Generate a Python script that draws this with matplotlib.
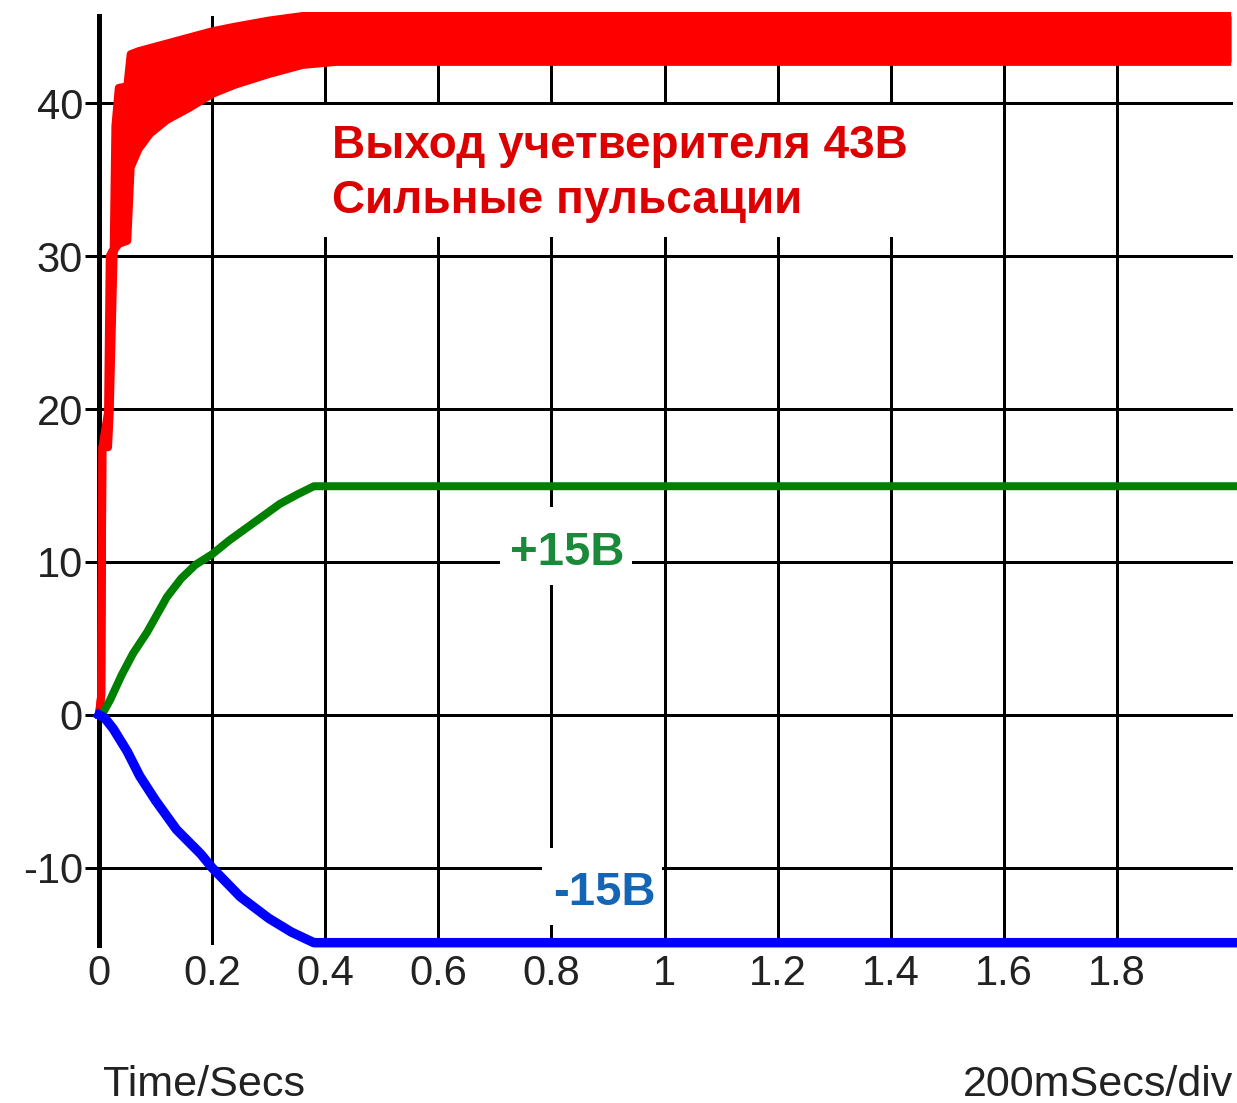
import matplotlib
matplotlib.use("Agg")
import matplotlib.pyplot as plt
from matplotlib.patches import Rectangle

plt.rcParams['font.family'] = ['Liberation Sans', 'DejaVu Sans']

# ---- data ----
# red: quadrupler output, drawn as a ripple band (upper / lower envelope)
red_t  = [0.000, 0.004, 0.006, 0.016, 0.019, 0.026, 0.029, 0.035, 0.050, 0.056,
          0.070, 0.090, 0.120, 0.160, 0.200, 0.240, 0.300, 0.360, 0.420, 2.002]
red_hi = [0.0, 1.3, 17.5, 19.8, 30.0, 30.5, 38.5, 41.0, 41.1, 43.2,
          43.4, 43.6, 43.9, 44.3, 44.7, 45.0, 45.4, 45.7, 45.7, 45.7]
red_lo = [0.0, 1.3, 17.5, 17.5, 19.8, 30.3, 30.5, 30.8, 31.0, 35.8,
          37.0, 38.0, 38.9, 39.7, 40.6, 41.2, 41.9, 42.5, 42.7, 42.7]

green_t = [0, 0.005, 0.02, 0.04, 0.06, 0.085, 0.12, 0.145, 0.17, 0.2,
           0.23, 0.26, 0.29, 0.32, 0.35, 0.38, 2.02]
green_v = [0, 0.0, 1.0, 2.6, 4.0, 5.4, 7.7, 8.9, 9.8, 10.5,
           11.4, 12.2, 13.0, 13.8, 14.4, 14.95, 14.95]

blue_t = [0, 0.01, 0.025, 0.05, 0.072, 0.1, 0.137, 0.18, 0.2, 0.25,
          0.3, 0.34, 0.38, 2.02]
blue_v = [0, -0.2, -0.9, -2.4, -4.0, -5.6, -7.5, -9.1, -10.0, -11.9,
          -13.3, -14.2, -14.9, -14.9]

x_ticks = [0, 0.2, 0.4, 0.6, 0.8, 1.0, 1.2, 1.4, 1.6, 1.8]
x_labels = ['0', '0.2', '0.4', '0.6', '0.8', '1', '1.2', '1.4', '1.6', '1.8']
y_ticks = [-10, 0, 10, 20, 30, 40]
y_labels = ['-10', '0', '10', '20', '30', '40']

red_line1 = "Выход учетверителя 43В"
red_line2 = "Сильные пульсации"
green_text = "+15В"
blue_text = "-15В"

# ---- figure ----
W, H = 1237, 1103
fig = plt.figure(figsize=(W / 100, H / 100), dpi=100)
ax = fig.add_axes([99 / W, 158 / H, 1134 / W, 929 / H])
ax.set_xlim(0, 1134 / 565.5)
ax.set_ylim(-15.05, 45.7)

px = 0.72  # points per pixel


def fx(x):
    return x / W


def fy(y):
    return 1 - y / H


for s in ['top', 'right', 'bottom']:
    ax.spines[s].set_visible(False)
ax.spines['left'].set_linewidth(5 * px)
ax.spines['left'].set_color('black')
ax.spines['left'].set_zorder(1.5)

ax.set_xticks(x_ticks)
ax.set_xticklabels(x_labels)
ax.set_yticks(y_ticks)
ax.set_yticklabels(y_labels)
ax.grid(True, color='black', linewidth=3 * px, zorder=0)
ax.set_axisbelow(True)
ax.tick_params(axis='x', length=0, pad=9 * px, labelsize=30, labelcolor='#222222')
ax.tick_params(axis='y', length=14 * px, width=3 * px, pad=1.5, labelsize=30,
               labelcolor='#222222', color='black')

# white label boxes (mask the grid)
for (x0, y0, x1, y1) in [(318, 105, 918, 237), (500, 507, 632, 585), (542, 848, 662, 925)]:
    ax.add_patch(Rectangle((fx(x0), fy(y1)), fx(x1) - fx(x0), fy(y0) - fy(y1),
                           transform=fig.transFigure, facecolor='white',
                           edgecolor='none', zorder=1.8))

lw_red = 8 * px
ax.fill_between(red_t, red_lo, red_hi, color='#ff0000', lw=0, zorder=3, clip_on=False)
ax.plot(red_t, red_hi, color='#ff0000', lw=lw_red, zorder=3, clip_on=False,
        solid_capstyle='butt')
ax.plot(red_t, red_lo, color='#ff0000', lw=lw_red, zorder=3, clip_on=False,
        solid_capstyle='butt')
ax.plot(green_t, green_v, color='#008000', lw=8 * px, zorder=4, clip_on=False)
ax.plot(blue_t, blue_v, color='#0000ff', lw=9.5 * px, zorder=5, clip_on=False)

fig.text(fx(332), fy(158), red_line1, color='#dc0000', fontsize=33,
         fontweight='bold', ha='left', va='baseline', zorder=6)
fig.text(fx(332), fy(213), red_line2, color='#dc0000', fontsize=33,
         fontweight='bold', ha='left', va='baseline', zorder=6)
fig.text(fx(510), fy(565), green_text, color='#1a8a3a', fontsize=34,
         fontweight='bold', ha='left', va='baseline', zorder=6)
fig.text(fx(553), fy(905), blue_text, color='#1565b5', fontsize=34,
         fontweight='bold', ha='left', va='baseline', zorder=6)

fig.text(fx(103), fy(1096), "Time/Secs", fontsize=31, color='#222222',
         ha='left', va='baseline')
fig.text(fx(963), fy(1096), "200mSecs/div", fontsize=31, color='#222222',
         ha='left', va='baseline')

fig.savefig("out.png", dpi=100, facecolor='white')
